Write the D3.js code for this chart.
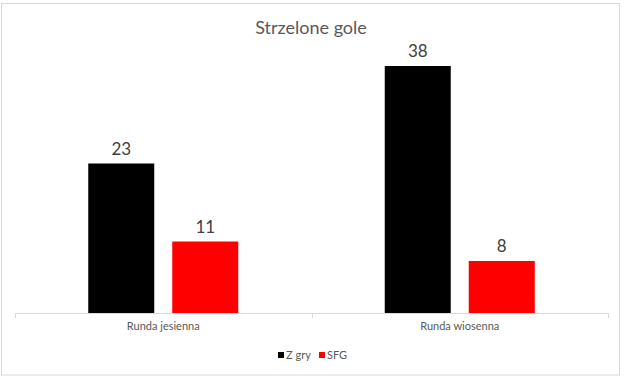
<!DOCTYPE html>
<html>
<head>
<meta charset="utf-8">
<script src="https://cdn.jsdelivr.net/npm/d3@7"></script>
<style>
  body { margin: 0; background: #fff; overflow: hidden; }
  text { font-family: Lato, "Open Sans", sans-serif; }
</style>
</head>
<body>
<script>
// data
const categories = ["Runda jesienna", "Runda wiosenna"];
const seriesNames = ["Z gry", "SFG"];
const seriesColors = ["#000000", "#ff0000"];
const zGry = [23, 38];
const sfg = [11, 8];

const width = 624, height = 380;
const svg = d3.select("body").append("svg")
    .attr("width", width)
    .attr("height", height);

// chart border
svg.append("rect")
    .attr("x", 1.5).attr("y", 3.5)
    .attr("width", 618).attr("height", 371.5)
    .attr("fill", "#fff")
    .attr("stroke", "#d9d9d9");

// title
svg.append("text")
    .attr("x", 311).attr("y", 34)
    .attr("text-anchor", "middle")
    .attr("fill", "#595959")
    .style("font-size", "18px")
    .text("Strzelone gole");

const plot = {left: 15, right: 608, top: 53, bottom: 313};

const x0 = d3.scaleBand()
    .domain(categories)
    .range([plot.left, plot.right]);

const x1 = d3.scaleBand()
    .domain(seriesNames)
    .range([0, 150])
    .paddingInner(18 / 84);

const y = d3.scaleLinear()
    .domain([0, 40])
    .range([plot.bottom, plot.top]);

const rows = categories.map((c, i) => ({
    cat: c,
    vals: [{s: seriesNames[0], v: zGry[i]}, {s: seriesNames[1], v: sfg[i]}]
}));

const groups = svg.append("g").selectAll("g")
    .data(rows)
    .join("g")
    .attr("transform", d => `translate(${x0(d.cat) + x0.bandwidth() / 2 - 75},0)`);

groups.selectAll("rect")
    .data(d => d.vals)
    .join("rect")
    .attr("x", d => x1(d.s))
    .attr("y", d => y(d.v))
    .attr("width", x1.bandwidth())
    .attr("height", d => y(0) - y(d.v))
    .attr("fill", (d, i) => seriesColors[i]);

groups.selectAll("text")
    .data(d => d.vals)
    .join("text")
    .attr("x", d => x1(d.s) + x1.bandwidth() / 2)
    .attr("y", d => y(d.v) - 9)
    .attr("text-anchor", "middle")
    .attr("fill", "#404040")
    .style("font-size", "17px")
    .text(d => d.v);

// category axis
const axis = svg.append("g")
    .attr("transform", `translate(0,${plot.bottom})`)
    .call(d3.axisBottom(x0).tickSize(0).tickPadding(9));
axis.select(".domain").attr("stroke", "#d9d9d9");
axis.selectAll("text")
    .attr("fill", "#595959")
    .style("font-size", "11px")
    .style("font-family", "Lato, 'Open Sans', sans-serif");

// tick marks at band edges
const edges = categories.map(c => x0(c)).concat([x0.range()[1]]);
axis.selectAll(".edge")
    .data(edges)
    .join("line")
    .attr("class", "edge")
    .attr("x1", d => Math.round(d) + 0.5).attr("x2", d => Math.round(d) + 0.5)
    .attr("y1", 0).attr("y2", 5)
    .attr("stroke", "#d9d9d9");

// legend
const legend = svg.append("g").attr("transform", "translate(278,355)");
const legItems = legend.selectAll("g")
    .data(seriesNames)
    .join("g")
    .attr("transform", (d, i) => `translate(${i * 41},0)`);
legItems.append("rect")
    .attr("x", 0).attr("y", -3)
    .attr("width", 6).attr("height", 6)
    .attr("fill", (d, i) => seriesColors[i]);
legItems.append("text")
    .attr("x", 8).attr("y", 4)
    .attr("fill", "#595959")
    .style("font-size", "11px")
    .text(d => d);
</script>
</body>
</html>
